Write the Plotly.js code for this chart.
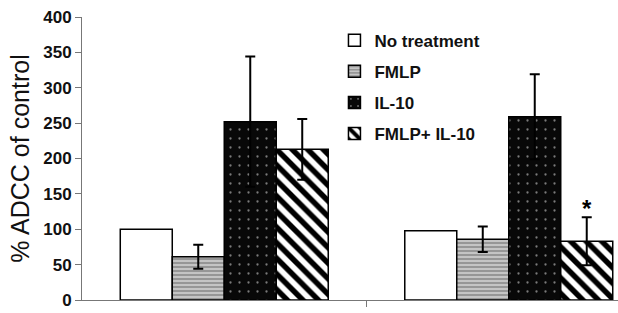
<!DOCTYPE html>
<html>
<head>
<meta charset="utf-8">
<script src="https://cdn.plot.ly/plotly-3.0.1.min.js"></script>
<style>html,body{margin:0;padding:0;background:#fff;}#chart{width:618px;height:313px;}</style>
</head>
<body>
<div id="chart"></div>
<script>
// Data
var groups = [0, 1];
var seriesNames = ['No treatment', 'FMLP', 'IL-10', 'FMLP+ IL-10'];
var noTreatment = [100, 98];
var fmlp = [61, 86];
var fmlpErr = [17, 18];
var il10 = [252, 259];
var il10Err = [92, 60];
var fmlpIl10 = [213, 83];
var fmlpIl10Err = [43, 34];
var yTicks = [0, 50, 100, 150, 200, 250, 300, 350, 400];
var starGroup = 1; // asterisk on FMLP+ IL-10 of the second group

var barGap = 0.269;
var lineStyle = {color: '#000', width: 1.5};
var errStyle = function (arr) {
  return {type: 'data', array: arr, visible: true, color: '#000', thickness: 2, width: 5};
};

var traces = [
  {type: 'bar', name: seriesNames[0], x: groups, y: noTreatment, legendgroup: 'a',
   marker: {color: '#ffffff', line: lineStyle}},
  {type: 'bar', name: seriesNames[1], x: groups, y: fmlp, legendgroup: 'b',
   error_y: errStyle(fmlpErr),
   marker: {color: '#b4b4b4', line: lineStyle,
            pattern: {shape: '-', bgcolor: '#c4c4c4', fgcolor: '#8a8a8a', size: 4, solidity: 0.4}}},
  {type: 'bar', name: seriesNames[2], x: groups, y: il10, legendgroup: 'c',
   error_y: errStyle(il10Err),
   marker: {color: '#080808', line: lineStyle,
            pattern: {shape: '.', bgcolor: '#080808', fgcolor: '#7a7a7a', size: 9, solidity: 0.05}}},
  {type: 'bar', name: seriesNames[3], x: groups, y: fmlpIl10, legendgroup: 'd',
   error_y: errStyle(fmlpIl10Err),
   marker: {color: '#ffffff', line: lineStyle,
            pattern: {shape: '\\', bgcolor: '#ffffff', fgcolor: '#000000', size: 11, solidity: 0.5}}}
];

var nSeries = traces.length;
var barW = (1 - barGap) / nSeries;
var starX = groups[starGroup] - (1 - barGap) / 2 + barW * (3 + 0.5);
var starY = fmlpIl10[starGroup] + fmlpIl10Err[starGroup];

var layout = {
  width: 618, height: 313,
  margin: {l: 82, r: 0, t: 17, b: 13, pad: 0},
  paper_bgcolor: '#fff', plot_bgcolor: '#fff',
  barmode: 'group', bargap: barGap, bargroupgap: 0,
  showlegend: true,
  legend: {x: 0.471, y: 0.98, xanchor: 'left', yanchor: 'top',
           font: {family: 'Liberation Sans, Arial, sans-serif', size: 17, weight: 'bold', color: '#111'},
           tracegroupgap: 6, traceorder: 'grouped', bgcolor: 'rgba(0,0,0,0)'},
  xaxis: {range: [-0.5, 1.384], showgrid: false, zeroline: false,
          showline: true, linecolor: '#777', linewidth: 1,
          tickmode: 'array', tickvals: [0.5], showticklabels: false,
          ticks: 'outside', ticklen: 6, tickcolor: '#777', fixedrange: true},
  yaxis: {range: [0, 400], tickmode: 'array', tickvals: yTicks,
          showgrid: false, zeroline: false, showline: true, linecolor: '#777', linewidth: 1,
          ticks: 'outside', ticklen: 6, tickcolor: '#777',
          tickfont: {family: 'Liberation Sans, Arial, sans-serif', size: 17, weight: 'bold', color: '#111'},
          title: {text: '% ADCC of control', standoff: 6,
                  font: {family: 'Liberation Sans, Arial, sans-serif', size: 25, color: '#111'}}},
  annotations: [{x: starX, y: starY, xref: 'x', yref: 'y', text: '*', showarrow: false,
                 yanchor: 'bottom', yshift: -7,
                 font: {family: 'Liberation Sans, Arial, sans-serif', size: 24, weight: 'bold', color: '#000'}}]
};

Plotly.newPlot('chart', traces, layout, {displayModeBar: false, staticPlot: true});
</script>
</body>
</html>
